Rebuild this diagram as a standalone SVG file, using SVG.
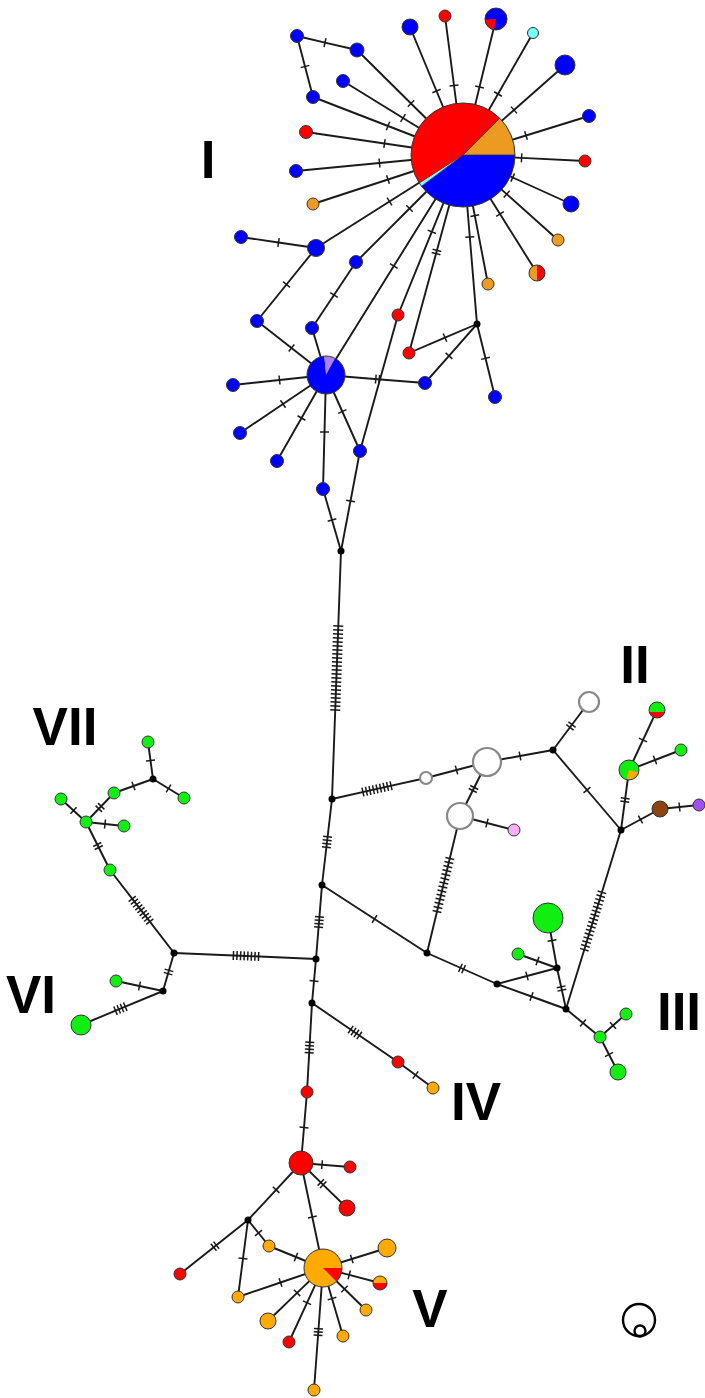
<svg xmlns="http://www.w3.org/2000/svg" width="705" height="1398" viewBox="0 0 705 1398">
<style>
.e{stroke:#1a1a1a;stroke-width:1.9;fill:none}
.tk{stroke:#1a1a1a;stroke-width:1.5;fill:none}
.n{stroke:#333;stroke-width:1}
.bl{fill:#0000ff}
.rd{fill:#ff0000}
.or{fill:#ec9a22}
.oy{fill:#ffaa00}
.gn{fill:#11ee11}
.cy{fill:#77ffff}
.pk{fill:#f5b0f5}
.pu{fill:#a050f0}
.br{fill:#8b4513}
.wt{fill:#fff;stroke:#888;stroke-width:2.2}
.jn{fill:#000}
.ol{fill:none;stroke:#333;stroke-width:1}
.lb{font-family:"Liberation Sans",Arial,sans-serif;font-weight:bold;font-size:53px;fill:#000;text-anchor:middle}
</style>
<defs>
<marker id="t1" markerUnits="userSpaceOnUse" orient="auto" overflow="visible" markerWidth="10" markerHeight="10"><path class="tk" d="M0,-4.5V4.5"/></marker>
<marker id="t2" markerUnits="userSpaceOnUse" orient="auto" overflow="visible" markerWidth="10" markerHeight="10"><path class="tk" d="M-1.7,-4.5V4.5M1.7,-4.5V4.5"/></marker>
<marker id="t3" markerUnits="userSpaceOnUse" orient="auto" overflow="visible" markerWidth="10" markerHeight="10"><path class="tk" d="M-3.3,-4.5V4.5M0,-4.5V4.5M3.3,-4.5V4.5"/></marker>
<marker id="t4" markerUnits="userSpaceOnUse" orient="auto" overflow="visible" markerWidth="10" markerHeight="10"><path class="tk" d="M-5.25,-4.5V4.5M-1.75,-4.5V4.5M1.75,-4.5V4.5M5.25,-4.5V4.5"/></marker>
<marker id="t8" markerUnits="userSpaceOnUse" orient="auto" overflow="visible" markerWidth="10" markerHeight="10"><path class="tk" d="M-12.6,-4.5V4.5M-9,-4.5V4.5M-5.4,-4.5V4.5M-1.8,-4.5V4.5M1.8,-4.5V4.5M5.4,-4.5V4.5M9,-4.5V4.5M12.6,-4.5V4.5"/></marker>
<marker id="t9" markerUnits="userSpaceOnUse" orient="auto" overflow="visible" markerWidth="10" markerHeight="10"><path class="tk" d="M-14.4,-4.5V4.5M-10.8,-4.5V4.5M-7.2,-4.5V4.5M-3.6,-4.5V4.5M0,-4.5V4.5M3.6,-4.5V4.5M7.2,-4.5V4.5M10.8,-4.5V4.5M14.4,-4.5V4.5"/></marker>
<marker id="t14" markerUnits="userSpaceOnUse" orient="auto" overflow="visible" markerWidth="10" markerHeight="10"><path class="tk" d="M-27.3,-4.5V4.5M-23.1,-4.5V4.5M-18.9,-4.5V4.5M-14.7,-4.5V4.5M-10.5,-4.5V4.5M-6.3,-4.5V4.5M-2.1,-4.5V4.5M2.1,-4.5V4.5M6.3,-4.5V4.5M10.5,-4.5V4.5M14.7,-4.5V4.5M18.9,-4.5V4.5M23.1,-4.5V4.5M27.3,-4.5V4.5"/></marker>
<marker id="t16" markerUnits="userSpaceOnUse" orient="auto" overflow="visible" markerWidth="10" markerHeight="10"><path class="tk" d="M-30,-4.5V4.5M-26,-4.5V4.5M-22,-4.5V4.5M-18,-4.5V4.5M-14,-4.5V4.5M-10,-4.5V4.5M-6,-4.5V4.5M-2,-4.5V4.5M2,-4.5V4.5M6,-4.5V4.5M10,-4.5V4.5M14,-4.5V4.5M18,-4.5V4.5M22,-4.5V4.5M26,-4.5V4.5M30,-4.5V4.5"/></marker>
<marker id="t22" markerUnits="userSpaceOnUse" orient="auto" overflow="visible" markerWidth="10" markerHeight="10"><path class="tk" d="M-42,-5V5M-38,-5V5M-34,-5V5M-30,-5V5M-26,-5V5M-22,-5V5M-18,-5V5M-14,-5V5M-10,-5V5M-6,-5V5M-2,-5V5M2,-5V5M6,-5V5M10,-5V5M14,-5V5M18,-5V5M22,-5V5M26,-5V5M30,-5V5M34,-5V5M38,-5V5M42,-5V5"/></marker>
</defs>
<rect width="705" height="1398" fill="#fff"/>
<g id="connectors">
<path class="e" marker-mid="url(#t1)" d="M357,50L411,103.5L463,155"/>
<path class="e" marker-mid="url(#t1)" d="M313,97L388,126L463,155"/>
<path class="e" marker-mid="url(#t1)" d="M343,81L403,118L463,155"/>
<path class="e" marker-mid="url(#t1)" d="M306,132L384.5,143.5L463,155"/>
<path class="e" marker-mid="url(#t1)" d="M296,171L379.5,163L463,155"/>
<path class="e" marker-mid="url(#t1)" d="M313,204L388,179.5L463,155"/>
<path class="e" marker-mid="url(#t1)" d="M316,248L389.5,201.5L463,155"/>
<path class="e" marker-mid="url(#t1)" d="M356,262L409.5,208.5L463,155"/>
<path class="e" marker-mid="url(#t1)" d="M410,27L436.5,91L463,155"/>
<path class="e" marker-mid="url(#t1)" d="M445,16L454,85.5L463,155"/>
<path class="e" marker-mid="url(#t1)" d="M496,19L479.5,87L463,155"/>
<path class="e" marker-mid="url(#t1)" d="M533,33L498,94L463,155"/>
<path class="e" marker-mid="url(#t1)" d="M565,65L514,110L463,155"/>
<path class="e" marker-mid="url(#t1)" d="M589,116L526,135.5L463,155"/>
<path class="e" marker-mid="url(#t1)" d="M585,161L521.6,157.9L463,155"/>
<path class="e" marker-mid="url(#t1)" d="M571,204L512.7,177.5L463,155"/>
<path class="e" marker-mid="url(#t1)" d="M558,240L506.7,194.1L463,155"/>
<path class="e" marker-mid="url(#t1)" d="M537,273L500,214L463,155"/>
<path class="e" marker-mid="url(#t1)" d="M488,284L474.8,215.6L463,155"/>
<path class="e" marker-mid="url(#t1)" d="M477,324L469.8,237L463,155"/>
<path class="e" marker-mid="url(#t2)" d="M409,353L436.5,252L463,155"/>
<path class="e" marker-mid="url(#t1)" d="M398,315L431.8,231.8L463,155"/>
<path class="e" marker-mid="url(#t1)" d="M326,375L393.8,266.1L463,155"/>
<path class="e" marker-mid="url(#t1)" d="M297,36L325,42.6L357,50"/>
<path class="e" marker-mid="url(#t1)" d="M297,36L305,66.5L313,97"/>
<path class="e" marker-mid="url(#t1)" d="M241,237L278.5,242.5L316,248"/>
<path class="e" marker-mid="url(#t1)" d="M316,248L286.5,284.5L257,321"/>
<path class="e" marker-mid="url(#t1)" d="M257,321L291.5,348L326,375"/>
<path class="e" marker-mid="url(#t1)" d="M356,262L334,295L312,328"/>
<path class="e" d="M312,328L326,375"/>
<path class="e" marker-mid="url(#t1)" d="M326,375L279.5,380L233,385"/>
<path class="e" marker-mid="url(#t1)" d="M326,375L283,404L240,433"/>
<path class="e" marker-mid="url(#t1)" d="M326,375L301.5,418L277,461"/>
<path class="e" marker-mid="url(#t1)" d="M326,375L324.5,432L323,489"/>
<path class="e" marker-mid="url(#t1)" d="M326,375L342.3,411.5L360,451"/>
<path class="e" marker-mid="url(#t2)" d="M326,375L377.5,379.2L425,383"/>
<path class="e" d="M398,315L360,451"/>
<path class="e" marker-mid="url(#t1)" d="M477,324L445,337.6L409,353"/>
<path class="e" marker-mid="url(#t1)" d="M477,324L449,355.9L425,383"/>
<path class="e" marker-mid="url(#t1)" d="M477,324L485.5,358.3L495,397"/>
<path class="e" marker-mid="url(#t1)" d="M323,489L332,520L341,551"/>
<path class="e" marker-mid="url(#t1)" d="M360,451L350.5,501L341,551"/>
<path class="e" marker-mid="url(#t22)" d="M341,551L336.75,668L332,799"/>
<path class="e" marker-mid="url(#t9)" d="M332,799L377,788.9L426,778"/>
<path class="e" marker-mid="url(#t1)" d="M426,778L456.5,770L487,762"/>
<path class="e" marker-mid="url(#t1)" d="M487,762L520,756L553,750"/>
<path class="e" marker-mid="url(#t2)" d="M553,750L571,726L589,702"/>
<path class="e" marker-mid="url(#t1)" d="M553,750L587,790L621,830"/>
<path class="e" marker-mid="url(#t2)" d="M487,762L473.5,789L460,816"/>
<path class="e" marker-mid="url(#t1)" d="M460,816L487,823L514,830"/>
<path class="e" marker-mid="url(#t14)" d="M460,816L443.4,885L427,953"/>
<path class="e" marker-mid="url(#t2)" d="M621,830L625,800L629,770"/>
<path class="e" marker-mid="url(#t1)" d="M629,770L643,740L657,710"/>
<path class="e" marker-mid="url(#t1)" d="M629,770L655,760L681,750"/>
<path class="e" marker-mid="url(#t1)" d="M621,830L640.5,819.5L660,809"/>
<path class="e" marker-mid="url(#t1)" d="M660,809L679.5,807L699,805"/>
<path class="e" marker-mid="url(#t16)" d="M621,830L593.1,921L566,1009"/>
<path class="e" marker-mid="url(#t4)" d="M332,799L327,842L322,885"/>
<path class="e" marker-mid="url(#t4)" d="M322,885L319,922L316,959"/>
<path class="e" marker-mid="url(#t1)" d="M316,959L314,981L312,1003"/>
<path class="e" marker-mid="url(#t4)" d="M312,1003L309.5,1047.5L307,1092"/>
<path class="e" marker-mid="url(#t1)" d="M322,885L374.5,919L427,953"/>
<path class="e" marker-mid="url(#t2)" d="M427,953L462,968.5L497,984"/>
<path class="e" marker-mid="url(#t1)" d="M497,984L531.5,996.5L566,1009"/>
<path class="e" marker-mid="url(#t1)" d="M497,984L527,976L557,968"/>
<path class="e" marker-mid="url(#t1)" d="M557,968L537.5,961L518,954"/>
<path class="e" marker-mid="url(#t1)" d="M557,968L552,940.5L548,918"/>
<path class="e" marker-mid="url(#t2)" d="M557,968L561.5,988.5L566,1009"/>
<path class="e" marker-mid="url(#t1)" d="M566,1009L583,1023L600,1037"/>
<path class="e" marker-mid="url(#t1)" d="M600,1037L613,1025.5L626,1014"/>
<path class="e" marker-mid="url(#t1)" d="M600,1037L609,1054.5L618,1072"/>
<path class="e" marker-mid="url(#t4)" d="M312,1003L355,1032.5L398,1062"/>
<path class="e" marker-mid="url(#t1)" d="M398,1062L415.5,1075L433,1088"/>
<path class="e" marker-mid="url(#t8)" d="M316,959L246,955.96L174,953"/>
<path class="e" marker-mid="url(#t9)" d="M174,953L141,910.2L110,870"/>
<path class="e" marker-mid="url(#t2)" d="M174,953L168.5,972L163,991"/>
<path class="e" marker-mid="url(#t1)" d="M163,991L139.5,986L116,981"/>
<path class="e" marker-mid="url(#t4)" d="M163,991L120.4,1008.7L81,1025"/>
<path class="e" marker-mid="url(#t2)" d="M110,870L98,846L86,822"/>
<path class="e" marker-mid="url(#t1)" d="M86,822L73.5,810.5L61,799"/>
<path class="e" marker-mid="url(#t1)" d="M86,822L105,824L124,826"/>
<path class="e" marker-mid="url(#t2)" d="M86,822L100,807.5L114,793"/>
<path class="e" marker-mid="url(#t1)" d="M114,793L133.5,786L153,779"/>
<path class="e" marker-mid="url(#t1)" d="M153,779L150.5,760.5L148,742"/>
<path class="e" marker-mid="url(#t1)" d="M153,779L168.5,788.5L184,798"/>
<path class="e" marker-mid="url(#t1)" d="M307,1092L304,1127.5L301,1163"/>
<path class="e" marker-mid="url(#t1)" d="M301,1163L322,1164.7L350,1167"/>
<path class="e" marker-mid="url(#t2)" d="M301,1163L322,1183.6L347,1208"/>
<path class="e" marker-mid="url(#t1)" d="M301,1163L276.1,1189.8L248,1220"/>
<path class="e" marker-mid="url(#t1)" d="M301,1163L312.3,1217L323,1268"/>
<path class="e" marker-mid="url(#t2)" d="M248,1220L215,1246.2L180,1274"/>
<path class="e" marker-mid="url(#t1)" d="M248,1220L258.5,1233L269,1246"/>
<path class="e" marker-mid="url(#t1)" d="M248,1220L243,1258.5L238,1297"/>
<path class="e" marker-mid="url(#t1)" d="M269,1246L296,1257L323,1268"/>
<path class="e" marker-mid="url(#t1)" d="M238,1297L280.5,1282.5L323,1268"/>
<path class="e" marker-mid="url(#t1)" d="M323,1268L351.8,1259L387,1248"/>
<path class="e" marker-mid="url(#t1)" d="M323,1268L349.2,1274.9L380,1283"/>
<path class="e" marker-mid="url(#t1)" d="M323,1268L344.5,1289L366,1310"/>
<path class="e" marker-mid="url(#t1)" d="M323,1268L332,1298.6L343,1336"/>
<path class="e" marker-mid="url(#t1)" d="M323,1268L297.1,1292.9L268,1321"/>
<path class="e" marker-mid="url(#t1)" d="M323,1268L307,1302.8L289,1342"/>
<path class="e" marker-mid="url(#t3)" d="M323,1268L318.3,1332L314,1390"/>
</g>
<g id="n-H1"><path class="or" d="M463,155L499.77,118.23A52,52 0 0 1 515,155Z"/><path class="bl" d="M463,155L515,155A52,52 0 0 1 421.47,186.29Z"/><path class="cy" d="M463,155L421.47,186.29A52,52 0 0 1 419.39,183.32Z"/><path class="rd" d="M463,155L419.39,183.32A52,52 0 0 1 499.77,118.23Z"/><path d="M463,155L499.77,118.23M463,155L515,155M463,155L421.47,186.29" stroke="#333" stroke-width="0.8" fill="none"/><circle class="ol" cx="463" cy="155" r="52"/></g>
<g id="n-H2"><path class="bl" d="M326,375L334.92,358.22A19,19 0 1 1 324.34,356.07Z"/><path fill="#b080f0" d="M326,375L324.34,356.07A19,19 0 0 1 334.92,358.22Z"/><circle class="ol" cx="326" cy="375" r="19"/></g>
<g id="n-b1"><circle class="n bl" cx="297" cy="36" r="6.5"/></g>
<g id="n-b2"><circle class="n bl" cx="357" cy="50" r="7"/></g>
<g id="n-b3"><circle class="n bl" cx="313" cy="97" r="6.5"/></g>
<g id="n-b4"><circle class="n bl" cx="343" cy="81" r="6.5"/></g>
<g id="n-r1"><circle class="n rd" cx="306" cy="132" r="6.5"/></g>
<g id="n-b5"><circle class="n bl" cx="296" cy="171" r="6.5"/></g>
<g id="n-o1"><circle class="n or" cx="313" cy="204" r="6"/></g>
<g id="n-b6"><circle class="n bl" cx="241" cy="237" r="6.5"/></g>
<g id="n-b7"><circle class="n bl" cx="316" cy="248" r="8.5"/></g>
<g id="n-b8"><circle class="n bl" cx="356" cy="262" r="6.5"/></g>
<g id="n-b9"><circle class="n bl" cx="410" cy="27" r="8"/></g>
<g id="n-r2"><circle class="n rd" cx="445" cy="16" r="6"/></g>
<g id="n-b10"><circle class="bl" cx="496" cy="19" r="11"/><path class="rd" d="M496,19L494.09,29.83A11,11 0 0 1 485.01,19.38Z"/><circle class="ol" cx="496" cy="19" r="11"/></g>
<g id="n-c1"><circle class="n cy" cx="533" cy="33" r="5.5"/></g>
<g id="n-b11"><circle class="n bl" cx="565" cy="65" r="10"/></g>
<g id="n-b12"><circle class="n bl" cx="589" cy="116" r="6.5"/></g>
<g id="n-r3"><circle class="n rd" cx="585" cy="161" r="6"/></g>
<g id="n-b13"><circle class="n bl" cx="571" cy="204" r="8"/></g>
<g id="n-o2"><circle class="n or" cx="558" cy="240" r="6"/></g>
<g id="n-or1"><path class="or" d="M537,265A8,8 0 0 0 537,281Z"/><path class="rd" d="M537,265A8,8 0 0 1 537,281Z"/><circle class="ol" cx="537" cy="273" r="8"/></g>
<g id="n-o3"><circle class="n or" cx="488" cy="284" r="6"/></g>
<g id="n-b14"><circle class="n bl" cx="257" cy="321" r="6.5"/></g>
<g id="n-b15"><circle class="n bl" cx="312" cy="328" r="6.5"/></g>
<g id="n-r4"><circle class="n rd" cx="398" cy="315" r="6"/></g>
<g id="n-r5"><circle class="n rd" cx="409" cy="353" r="6"/></g>
<g id="n-j1"><circle class="jn" cx="477" cy="324" r="3.5"/></g>
<g id="n-b16"><circle class="n bl" cx="425" cy="383" r="6.5"/></g>
<g id="n-b17"><circle class="n bl" cx="495" cy="397" r="6.5"/></g>
<g id="n-b18"><circle class="n bl" cx="233" cy="385" r="6.5"/></g>
<g id="n-b19"><circle class="n bl" cx="240" cy="433" r="6.5"/></g>
<g id="n-b20"><circle class="n bl" cx="277" cy="461" r="6.5"/></g>
<g id="n-b21"><circle class="n bl" cx="323" cy="489" r="6.5"/></g>
<g id="n-b22"><circle class="n bl" cx="360" cy="451" r="6.5"/></g>
<g id="n-j2"><circle class="jn" cx="341" cy="551" r="3.5"/></g>
<g id="n-j3"><circle class="jn" cx="332" cy="799" r="3.5"/></g>
<g id="n-w1"><circle class="wt" cx="426" cy="778" r="6"/></g>
<g id="n-w2"><circle class="wt" cx="487" cy="762" r="14"/></g>
<g id="n-j4"><circle class="jn" cx="553" cy="750" r="3.5"/></g>
<g id="n-w3"><circle class="wt" cx="589" cy="702" r="10"/></g>
<g id="n-w4"><circle class="wt" cx="460" cy="816" r="13"/></g>
<g id="n-pk"><circle class="n pk" cx="514" cy="830" r="6"/></g>
<g id="n-j5"><circle class="jn" cx="621" cy="830" r="3.5"/></g>
<g id="n-go"><circle class="gn" cx="629" cy="770" r="10"/><path class="oy" d="M629,770L638.66,772.59A10,10 0 0 1 626.41,779.66Z"/><circle class="ol" cx="629" cy="770" r="10"/></g>
<g id="n-gr"><circle class="gn" cx="657" cy="710" r="8"/><path class="rd" d="M664.73,712.07A8,8 0 0 1 649.27,712.07Z"/><circle class="ol" cx="657" cy="710" r="8"/></g>
<g id="n-g1"><circle class="n gn" cx="681" cy="750" r="6"/></g>
<g id="n-brn"><circle class="n br" cx="660" cy="809" r="8"/></g>
<g id="n-pur"><circle class="n pu" cx="699" cy="805" r="6"/></g>
<g id="n-j6"><circle class="jn" cx="322" cy="885" r="3.5"/></g>
<g id="n-j7"><circle class="jn" cx="427" cy="953" r="3.5"/></g>
<g id="n-j8"><circle class="jn" cx="497" cy="984" r="3.5"/></g>
<g id="n-j9"><circle class="jn" cx="557" cy="968" r="3.5"/></g>
<g id="n-j10"><circle class="jn" cx="566" cy="1009" r="3.5"/></g>
<g id="n-gB"><circle class="n gn" cx="548" cy="918" r="15"/></g>
<g id="n-g2"><circle class="n gn" cx="518" cy="954" r="6"/></g>
<g id="n-g3"><circle class="n gn" cx="600" cy="1037" r="6"/></g>
<g id="n-g4"><circle class="n gn" cx="626" cy="1014" r="6"/></g>
<g id="n-g5"><circle class="n gn" cx="618" cy="1072" r="8"/></g>
<g id="n-j11"><circle class="jn" cx="316" cy="959" r="3.5"/></g>
<g id="n-j12"><circle class="jn" cx="312" cy="1003" r="3.5"/></g>
<g id="n-r6"><circle class="n rd" cx="398" cy="1062" r="6"/></g>
<g id="n-o4"><circle class="n oy" cx="433" cy="1088" r="6"/></g>
<g id="n-g6"><circle class="n gn" cx="148" cy="742" r="6"/></g>
<g id="n-j13"><circle class="jn" cx="153" cy="779" r="3.5"/></g>
<g id="n-g7"><circle class="n gn" cx="184" cy="798" r="6"/></g>
<g id="n-g8"><circle class="n gn" cx="114" cy="793" r="6"/></g>
<g id="n-g9"><circle class="n gn" cx="61" cy="799" r="6"/></g>
<g id="n-g10"><circle class="n gn" cx="86" cy="822" r="6"/></g>
<g id="n-g11"><circle class="n gn" cx="124" cy="826" r="6"/></g>
<g id="n-g12"><circle class="n gn" cx="110" cy="870" r="6"/></g>
<g id="n-j14"><circle class="jn" cx="174" cy="953" r="3.5"/></g>
<g id="n-j15"><circle class="jn" cx="163" cy="991" r="3.5"/></g>
<g id="n-g13"><circle class="n gn" cx="116" cy="981" r="6"/></g>
<g id="n-g14"><circle class="n gn" cx="81" cy="1025" r="10"/></g>
<g id="n-r7"><circle class="n rd" cx="307" cy="1092" r="6"/></g>
<g id="n-rB"><circle class="n rd" cx="301" cy="1163" r="12"/></g>
<g id="n-r8"><circle class="n rd" cx="350" cy="1167" r="6"/></g>
<g id="n-r9"><circle class="n rd" cx="347" cy="1208" r="8"/></g>
<g id="n-j16"><circle class="jn" cx="248" cy="1220" r="3.5"/></g>
<g id="n-r10"><circle class="n rd" cx="180" cy="1274" r="6"/></g>
<g id="n-o5"><circle class="n oy" cx="269" cy="1246" r="6"/></g>
<g id="n-o6"><circle class="n oy" cx="238" cy="1297" r="6"/></g>
<g id="n-oB"><circle class="oy" cx="323" cy="1268" r="19"/><path class="rd" d="M323,1268L342,1268A19,19 0 0 1 336.43,1281.43Z"/><circle class="ol" cx="323" cy="1268" r="19"/></g>
<g id="n-o7"><circle class="n oy" cx="387" cy="1248" r="9"/></g>
<g id="n-or2"><circle class="oy" cx="380" cy="1283" r="7"/><path class="rd" d="M373,1283A7,7 0 0 0 387,1283Z"/><circle class="ol" cx="380" cy="1283" r="7"/></g>
<g id="n-o8"><circle class="n oy" cx="366" cy="1310" r="6"/></g>
<g id="n-o9"><circle class="n oy" cx="343" cy="1336" r="6"/></g>
<g id="n-o10"><circle class="n oy" cx="268" cy="1321" r="8"/></g>
<g id="n-r11"><circle class="n rd" cx="289" cy="1342" r="6"/></g>
<g id="n-o11"><circle class="n oy" cx="314" cy="1390" r="6"/></g>
<g id="legend"><circle cx="639" cy="1320" r="16" fill="none" stroke="#000" stroke-width="2.4"/><circle cx="640" cy="1331" r="5.5" fill="none" stroke="#000" stroke-width="2.4"/></g>
<g id="labels">
<text class="lb" x="208" y="178">I</text>
<text class="lb" x="635" y="683">II</text>
<text class="lb" x="679" y="1030">III</text>
<text class="lb" x="476" y="1120">IV</text>
<text class="lb" x="430" y="1327">V</text>
<text class="lb" x="31" y="1013">VI</text>
<text class="lb" x="65" y="745">VII</text>
</g>
</svg>
